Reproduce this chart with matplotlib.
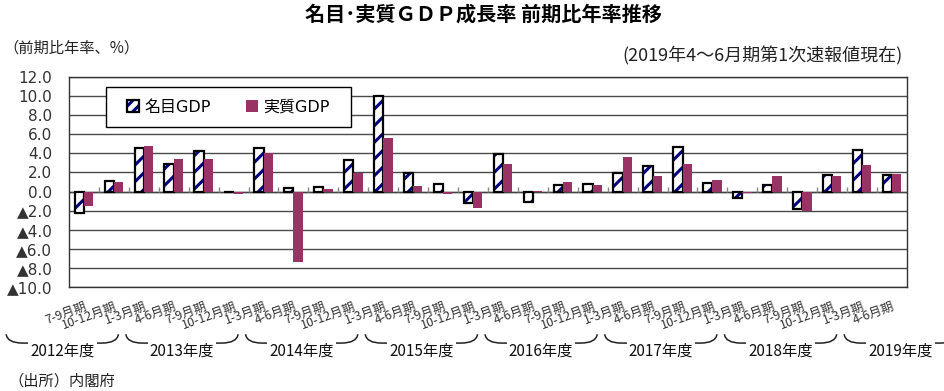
import matplotlib.pyplot as plt
import numpy as np
from matplotlib.patches import Patch, PathPatch, Rectangle
from matplotlib.path import Path

plt.rcParams["font.family"] = ["DejaVu Sans", "Noto Sans CJK JP"]
plt.rcParams["hatch.linewidth"] = 2.2

quarters = [
    "7-9月期", "10-12月期",
    "1-3月期", "4-6月期", "7-9月期", "10-12月期",
    "1-3月期", "4-6月期", "7-9月期", "10-12月期",
    "1-3月期", "4-6月期", "7-9月期", "10-12月期",
    "1-3月期", "4-6月期", "7-9月期", "10-12月期",
    "1-3月期", "4-6月期", "7-9月期", "10-12月期",
    "1-3月期", "4-6月期", "7-9月期", "10-12月期",
    "1-3月期", "4-6月期",
]
nominal = [-2.2, 1.1, 4.6, 2.9, 4.2, 0.0, 4.6, 0.35, 0.45, 3.3, 10.0, 1.9, 0.8, -1.2,
           3.9, -1.1, 0.7, 0.8, 1.9, 2.7, 4.7, 0.9, -0.7, 0.7, -1.8, 1.7, 4.3, 1.7]
real = [-1.5, 1.0, 4.8, 3.4, 3.4, -0.3, 4.0, -7.4, 0.25, 1.9, 5.6, 0.6, -0.3, -1.75,
        2.9, 0.05, 1.0, 0.7, 3.6, 1.6, 2.9, 1.2, -0.2, 1.6, -2.0, 1.6, 2.8, 1.8]
fiscal_years = ["2012年度", "2013年度", "2014年度", "2015年度",
                "2016年度", "2017年度", "2018年度", "2019年度"]
yticks = np.arange(-10, 13, 2)

W, H = 944, 391
fig = plt.figure(figsize=(W / 100, H / 100), dpi=100)
ax = fig.add_axes([69 / W, 1 - 287 / H, 838 / W, 210 / H])

x = np.arange(len(quarters))
bw = 0.31
navy = "#000080"
plum = "#993366"

# nominal: white bar with navy hatch, black outline on top
ax.bar(x - bw / 2, nominal, bw, color="white", edgecolor=navy, hatch="//",
       linewidth=0, zorder=3)
ax.bar(x - bw / 2, nominal, bw, fill=False, edgecolor="black", linewidth=1.6, zorder=3)
ax.bar(x + bw / 2, real, bw, color=plum, linewidth=0, zorder=3)

ax.set_xlim(-0.5, len(quarters) - 0.5)
ax.set_ylim(-10, 12)
ax.set_yticks(yticks)
ax.set_yticklabels([f"{v:.1f}" if v >= 0 else "▲" + f"{-v:.1f}" for v in yticks],
                   fontsize=11, color="#333333")
ax.tick_params(axis="y", length=0, pad=12)
ax.set_xticks([])
ax.grid(axis="y", color="#4a4a4a", linewidth=1, zorder=0)
ax.axhline(0, color="#444444", linewidth=1, zorder=2)
ax.vlines(x[:-1] + 0.5, 0, 0.45, color="#888888", linewidth=1, zorder=2)
for s in ax.spines.values():
    s.set_color("#333333")
    s.set_linewidth(1)

# legend box
ax.add_patch(Rectangle((0.044, 0.762), 0.2925, 0.19, transform=ax.transAxes,
                       facecolor="white", edgecolor="black", linewidth=1, zorder=4))
h_nom = (Patch(facecolor="white", edgecolor=navy, hatch="///", linewidth=0),
         Patch(fill=False, edgecolor="black", linewidth=1.6))
h_real = Patch(facecolor=plum, linewidth=0)
leg = ax.legend([h_nom, h_real], ["名目GDP", "実質GDP"], loc="center",
                bbox_to_anchor=(0.1903, 0.857), ncol=2, frameon=False, fontsize=11.5,
                handlelength=0.75, handleheight=0.75, handletextpad=0.35,
                columnspacing=2.2)
leg.set_zorder(5)

# quarter labels
xt = ax.get_xaxis_transform()
for i, q in enumerate(quarters):
    ax.text(i + 0.08, -0.09, q, transform=xt, ha="right", va="center", rotation=20,
            rotation_mode="anchor", fontsize=9, color="#333333",
            family=["Noto Sans CJK JP"], clip_on=False)

# fiscal-year braces
ytop, ylow, ytxt = -0.225, -0.267, -0.305
for k, fy in enumerate(fiscal_years):
    start = -1 + 4 * k
    x0, x1 = start - 1.6, start + 2.15
    verts = [(x0, ytop), (x0 + 0.04, ylow), (x0 + 0.55, ylow), (x1 - 0.55, ylow),
             (x1 - 0.04, ylow), (x1, ytop)]
    codes = [Path.MOVETO, Path.CURVE3, Path.CURVE3, Path.LINETO, Path.CURVE3, Path.CURVE3]
    ax.add_patch(PathPatch(Path(verts, codes), transform=xt, fill=False,
                           edgecolor="#222222", linewidth=1.1, clip_on=False))
    ax.text((x0 + x1) / 2, ytxt, fy, transform=xt, ha="center", va="center",
            fontsize=11, color="#111111", family=["Noto Sans CJK JP"], clip_on=False,
            bbox=dict(facecolor="white", edgecolor="none", pad=1.5))

fig.text(483 / W, 1 - 14 / H, "名目･実質ＧＤＰ成長率 前期比年率推移", ha="center",
         va="center", fontsize=14.5, fontweight="bold", family=["Noto Sans CJK JP"])
fig.text(3 / W, 1 - 48 / H, "（前期比年率、%）", ha="left", va="center", fontsize=11,
         family=["Noto Sans CJK JP"], color="#222222")
fig.text(903 / W, 1 - 56 / H, "(2019年4～6月期第1次速報値現在)", ha="right",
         va="center", fontsize=13, family=["Noto Sans CJK JP"], color="#222222")
fig.text(8 / W, 1 - 381 / H, "（出所）内閣府", ha="left", va="center", fontsize=11,
         family=["Noto Sans CJK JP"], color="#222222")

fig.savefig("out.png", dpi=100)
